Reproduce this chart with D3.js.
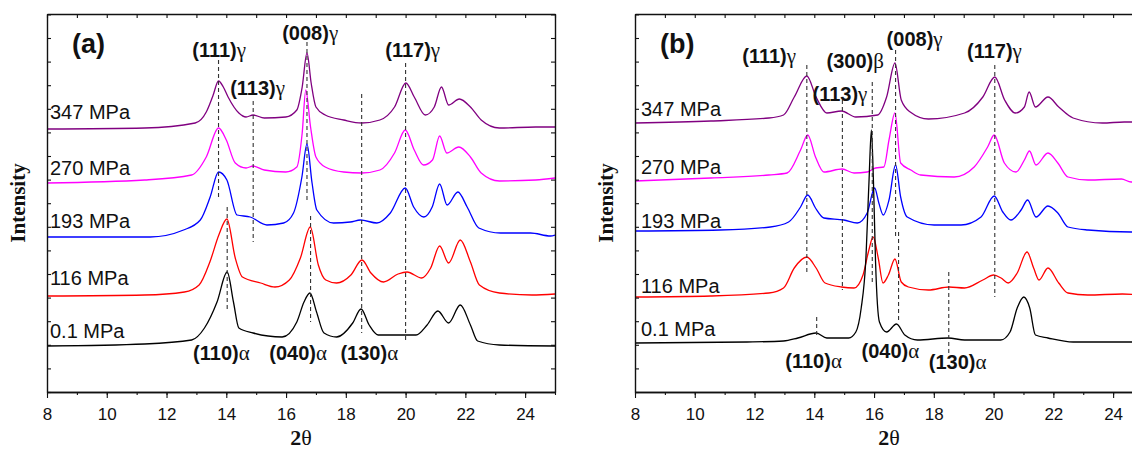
<!DOCTYPE html>
<html>
<head>
<meta charset="utf-8">
<script src="https://cdn.jsdelivr.net/npm/d3@7"></script>
<style>
    body { margin: 0; background: #fff; }
    svg text { font-family: "Liberation Sans", Arial, sans-serif; fill: #111; }
    .serif { font-family: "Liberation Serif", "Times New Roman", serif; }
</style>
</head>
<body>
<svg id="chart" width="1132" height="450"></svg>
<script>
// series labels and colours (top to bottom)
const pressures = ['347 MPa', '270 MPa', '193 MPa', '116 MPa', '0.1 MPa'];
const seriesColors = ['#800080', '#ff00ff', '#0000ff', '#ff0000', '#000000'];
const xTickValues = [8, 10, 12, 14, 16, 18, 20, 22, 24];

// ---- panel (a): [2theta, intensity (a.u., stacked)] ----
const a347 = [[8.0,263],[11.27,264],[12.96,269],[13.33,280],[13.55,296],[13.74,311],[13.9,305],[14.06,295],[14.42,279],[14.66,275],[14.9,277],[15.27,274],[15.99,275],[16.36,282],[16.54,305],[16.7,339],[16.84,309],[17.0,285],[17.31,277],[17.93,272],[18.53,269],[19.14,272],[19.63,285],[20.01,309],[20.29,295],[20.66,277],[20.96,285],[21.2,305],[21.44,287],[21.8,293],[22.17,285],[22.53,272],[23.14,264],[24.35,265],[25.0,265]];
const a270 = [[8.0,209],[11.27,212],[12.84,217],[13.33,235],[13.74,264],[14.0,252],[14.3,229],[14.66,224],[14.9,226],[15.27,222],[15.99,220],[16.36,225],[16.54,259],[16.66,302],[16.82,265],[17.0,235],[17.31,225],[17.93,220],[18.53,219],[19.14,222],[19.63,239],[19.99,262],[20.29,242],[20.6,227],[20.9,232],[21.14,256],[21.38,239],[21.78,245],[22.17,235],[22.53,219],[23.14,211],[24.35,212],[25.0,214]];
const a193 = [[8.0,155],[10.0,155],[11.45,155],[12.57,162],[13.13,172],[13.46,195],[13.74,220],[14.02,212],[14.36,177],[14.8,175],[15.36,167],[15.92,169],[16.25,179],[16.53,215],[16.7,248],[16.87,209],[17.03,182],[17.59,169],[18.15,170],[18.49,172],[19.04,169],[19.49,179],[19.99,204],[20.27,185],[20.61,175],[20.89,185],[21.14,208],[21.39,187],[21.75,200],[22.06,185],[22.45,164],[23.18,159],[24.18,159],[24.85,156],[25.0,157]];
const a116 = [[8.0,96],[11.27,97],[12.6,100],[13.09,107],[13.45,130],[13.75,157],[14.02,173],[14.3,134],[14.54,115],[15.15,109],[15.63,105],[16.11,112],[16.48,134],[16.81,165],[17.08,127],[17.33,112],[17.69,109],[18.17,117],[18.54,132],[18.84,119],[19.26,110],[19.75,118],[20.05,120],[20.54,114],[20.84,124],[21.14,146],[21.44,129],[21.83,152],[22.17,130],[22.47,107],[23.14,99],[24.23,97],[25.0,98]];
const a01 = [[8.0,46],[11.27,48],[12.84,52],[13.27,64],[13.69,90],[14.03,120],[14.24,90],[14.42,64],[14.9,59],[15.87,55],[16.36,70],[16.6,90],[16.8,99],[17.02,80],[17.27,59],[17.69,55],[18.23,69],[18.51,83],[18.78,67],[19.08,57],[19.75,57],[20.35,57],[20.72,67],[21.08,81],[21.44,69],[21.83,87],[22.17,67],[22.41,51],[23.14,47],[25.0,46]];

// ---- panel (b) ----
const b347 = [[8.0,269],[10.54,271],[12.48,274],[12.97,277],[13.33,295],[13.75,316],[14.06,295],[14.42,279],[14.91,281],[15.39,275],[16.12,277],[16.42,295],[16.7,329],[16.91,292],[17.21,280],[17.82,273],[19.03,279],[19.64,295],[20.04,315],[20.37,292],[20.73,279],[21.03,285],[21.19,300],[21.4,285],[21.82,295],[22.18,285],[22.66,274],[23.64,269],[24.37,270],[25.0,270]];
const b270 = [[8.0,211],[10.54,214],[12.48,217],[13.09,219],[13.54,242],[13.78,257],[14.04,235],[14.32,220],[14.93,223],[15.33,219],[15.77,220],[16.05,224],[16.33,225],[16.5,252],[16.7,279],[16.89,229],[17.23,222],[17.56,217],[18.68,215],[19.35,225],[19.8,245],[20.02,257],[20.36,229],[20.75,220],[21.03,232],[21.2,241],[21.42,227],[21.82,239],[22.15,229],[22.49,215],[23.16,212],[24.28,213],[24.6,210],[25.0,211]];
const b193 = [[8.0,161],[10.85,162],[12.53,165],[13.14,170],[13.54,185],[13.78,197],[14.04,184],[14.32,174],[14.99,172],[15.44,169],[15.77,179],[16.02,204],[16.16,189],[16.31,177],[16.5,192],[16.72,227],[16.89,195],[17.11,175],[18.01,167],[18.91,167],[19.58,175],[20.02,196],[20.31,180],[20.58,172],[20.92,182],[21.14,192],[21.42,175],[21.82,186],[22.15,179],[22.49,165],[23.16,162],[24.6,160],[25.0,161]];
const b116 = [[8.0,95],[10.54,96],[12.48,99],[12.97,104],[13.33,124],[13.75,135],[14.06,124],[14.36,109],[14.91,105],[15.33,104],[15.63,117],[15.81,140],[15.97,155],[16.14,134],[16.3,109],[16.48,117],[16.7,133],[16.91,110],[17.15,105],[17.82,102],[18.51,105],[19.03,104],[19.64,112],[20.0,117],[20.25,114],[20.49,109],[20.79,119],[21.12,140],[21.34,124],[21.52,112],[21.82,124],[22.18,109],[22.49,99],[23.15,97],[24.31,98],[25.0,97]];
const b01 = [[8.0,49],[11.75,50],[12.97,51],[13.45,54],[14.06,59],[14.42,54],[15.15,54],[15.39,60],[15.57,84],[15.72,130],[15.83,210],[15.91,262],[15.98,210],[16.05,130],[16.18,70],[16.42,60],[16.75,68],[17.03,57],[17.45,52],[18.48,54],[19.03,52],[20.24,52],[20.55,60],[20.79,84],[21.01,95],[21.21,84],[21.4,57],[21.82,54],[22.66,50],[24.37,50],[25.0,50]];

// reference peak positions: [2theta, from, to]
const aMarks = [[13.74,332,192],[14.9,291,150],[16.7,350,192],[16.82,176,70],[18.53,298,59],[20.0,329,50],[14.03,185,81]];
const bMarks = [[13.75,327,120],[14.94,292,102],[15.94,310,109],[16.72,342,154],[16.82,160,70],[20.04,327,95],[14.08,75,57],[18.5,120,39]];

// reflection labels: [hkl, phase letter, 2theta, intensity]
const aPeaks = [['(111)','γ',12.86,335],['(113)','γ',14.13,297],['(008)','γ',15.87,352],['(117)','γ',19.32,335],
                ['(110)','α',12.89,32],['(040)','α',15.44,32],['(130)','α',17.82,32]];
const bPeaks = [['(111)','γ',11.59,329],['(113)','γ',13.94,291],['(300)','β',14.41,324],['(008)','γ',16.42,346],['(117)','γ',19.11,334],
                ['(110)','α',13.03,24],['(040)','α',15.58,34],['(130)','α',17.83,23]];
const aLabelLevels = [273, 217, 164, 107, 54];
const bLabelLevels = [276, 218, 164, 99, 56];

const svg = d3.select('#chart');

drawPanel({ left: 47, tag: '(a)', series: [a347, a270, a193, a116, a01], marks: aMarks, peaks: aPeaks,
            levels: aLabelLevels, labelX: 8.1, titleX: 25, id: 'a' });
drawPanel({ left: 635, tag: '(b)', series: [b347, b270, b193, b116, b01], marks: bMarks, peaks: bPeaks,
            levels: bLabelLevels, labelX: 8.2, titleX: 613, id: 'b' });

function drawPanel(p) {
    let top = 14,
        width = 508,
        height = 378;

    let g = svg.append('g').attr('transform', 'translate(' + p.left + ',' + top + ')');

    let x = d3.scaleLinear().domain([8, 25]).range([0, width]);
    let y = d3.scaleLinear().domain([0, 378]).range([height, 0]);

    g.append('clipPath').attr('id', 'clip-' + p.id)
        .append('rect').attr('width', width).attr('height', height);

    // curves
    let line = d3.line()
        .x(function(d) { return x(d[0]); })
        .y(function(d) { return y(d[1]); })
        .curve(d3.curveMonotoneX);

    g.append('g').attr('clip-path', 'url(#clip-' + p.id + ')')
        .selectAll('path')
        .data(p.series)
        .enter().append('path')
        .attr('d', line)
        .attr('fill', 'none')
        .attr('stroke', function(d, i) { return seriesColors[i]; })
        .attr('stroke-width', 1.3);

    // dashed reference lines
    g.selectAll('.mark')
        .data(p.marks)
        .enter().append('line')
        .attr('class', 'mark')
        .attr('x1', function(d) { return x(d[0]); })
        .attr('x2', function(d) { return x(d[0]); })
        .attr('y1', function(d) { return y(d[1]); })
        .attr('y2', function(d) { return y(d[2]); })
        .attr('stroke', '#333')
        .attr('stroke-width', 1.1)
        .attr('stroke-dasharray', '4,3');

    // axes: frame with minor ticks
    let minor = d3.range(8, 26, 1);
    let yTicks = d3.range(0, 378, 23.6);

    let bottomMajor = d3.axisBottom(x).tickValues(xTickValues).tickSize(6).tickSizeOuter(0);
    let bottomMinor = d3.axisBottom(x).tickValues(minor).tickSize(3).tickFormat('').tickSizeOuter(0);

    g.append('g').attr('transform', 'translate(0,' + height + ')').call(bottomMinor);
    let bx = g.append('g').attr('transform', 'translate(0,' + height + ')').call(bottomMajor);
    bx.selectAll('.tick text').attr('y', 16).style('font-size', '17px')
        .style('font-family', '"Liberation Sans", Arial, sans-serif').attr('fill', '#111');

    g.append('g').call(d3.axisTop(x).tickValues(minor).tickSize(-4).tickFormat('').tickSizeOuter(0));
    g.append('g').call(d3.axisLeft(y).tickValues(yTicks).tickSize(-4).tickFormat('').tickSizeOuter(0));
    g.append('g').attr('transform', 'translate(' + width + ',0)')
        .call(d3.axisRight(y).tickValues(yTicks).tickSize(-4).tickFormat('').tickSizeOuter(0));

    g.selectAll('.domain').attr('stroke', '#111').attr('stroke-width', 1.4);
    g.selectAll('.tick line').attr('stroke', '#111').attr('stroke-width', 1.1);

    // pressure labels
    g.selectAll('.plabel')
        .data(pressures)
        .enter().append('text')
        .attr('class', 'plabel')
        .attr('x', x(p.labelX))
        .attr('y', function(d, i) { return y(p.levels[i]); })
        .style('font-size', '20px')
        .text(function(d) { return d; });

    // reflection labels
    let pk = g.selectAll('.peak')
        .data(p.peaks)
        .enter().append('text')
        .attr('class', 'peak')
        .attr('x', function(d) { return x(d[2]); })
        .attr('y', function(d) { return y(d[3]); });
    pk.append('tspan').style('font-size', '20px').style('font-weight', 'bold')
        .text(function(d) { return d[0]; });
    pk.append('tspan').attr('class', 'serif').style('font-size', '21px')
        .text(function(d) { return d[1]; });

    // panel tag
    g.append('text')
        .attr('x', x(8.84))
        .attr('y', y(339))
        .style('font-size', '27px')
        .style('font-weight', 'bold')
        .text(p.tag);

    // axis titles
    svg.append('text')
        .attr('class', 'serif')
        .attr('transform', 'translate(' + p.titleX + ',' + (top + height / 2) + ') rotate(-90)')
        .attr('text-anchor', 'middle')
        .style('font-size', '21px')
        .style('font-weight', 'bold')
        .text('Intensity');

    let t = svg.append('text')
        .attr('class', 'serif')
        .attr('x', p.left + width / 2)
        .attr('y', 445)
        .attr('text-anchor', 'middle')
        .style('font-size', '22px');
    t.append('tspan').style('font-weight', 'bold').text('2');
    t.append('tspan').text('θ');
}
</script>
</body>
</html>
